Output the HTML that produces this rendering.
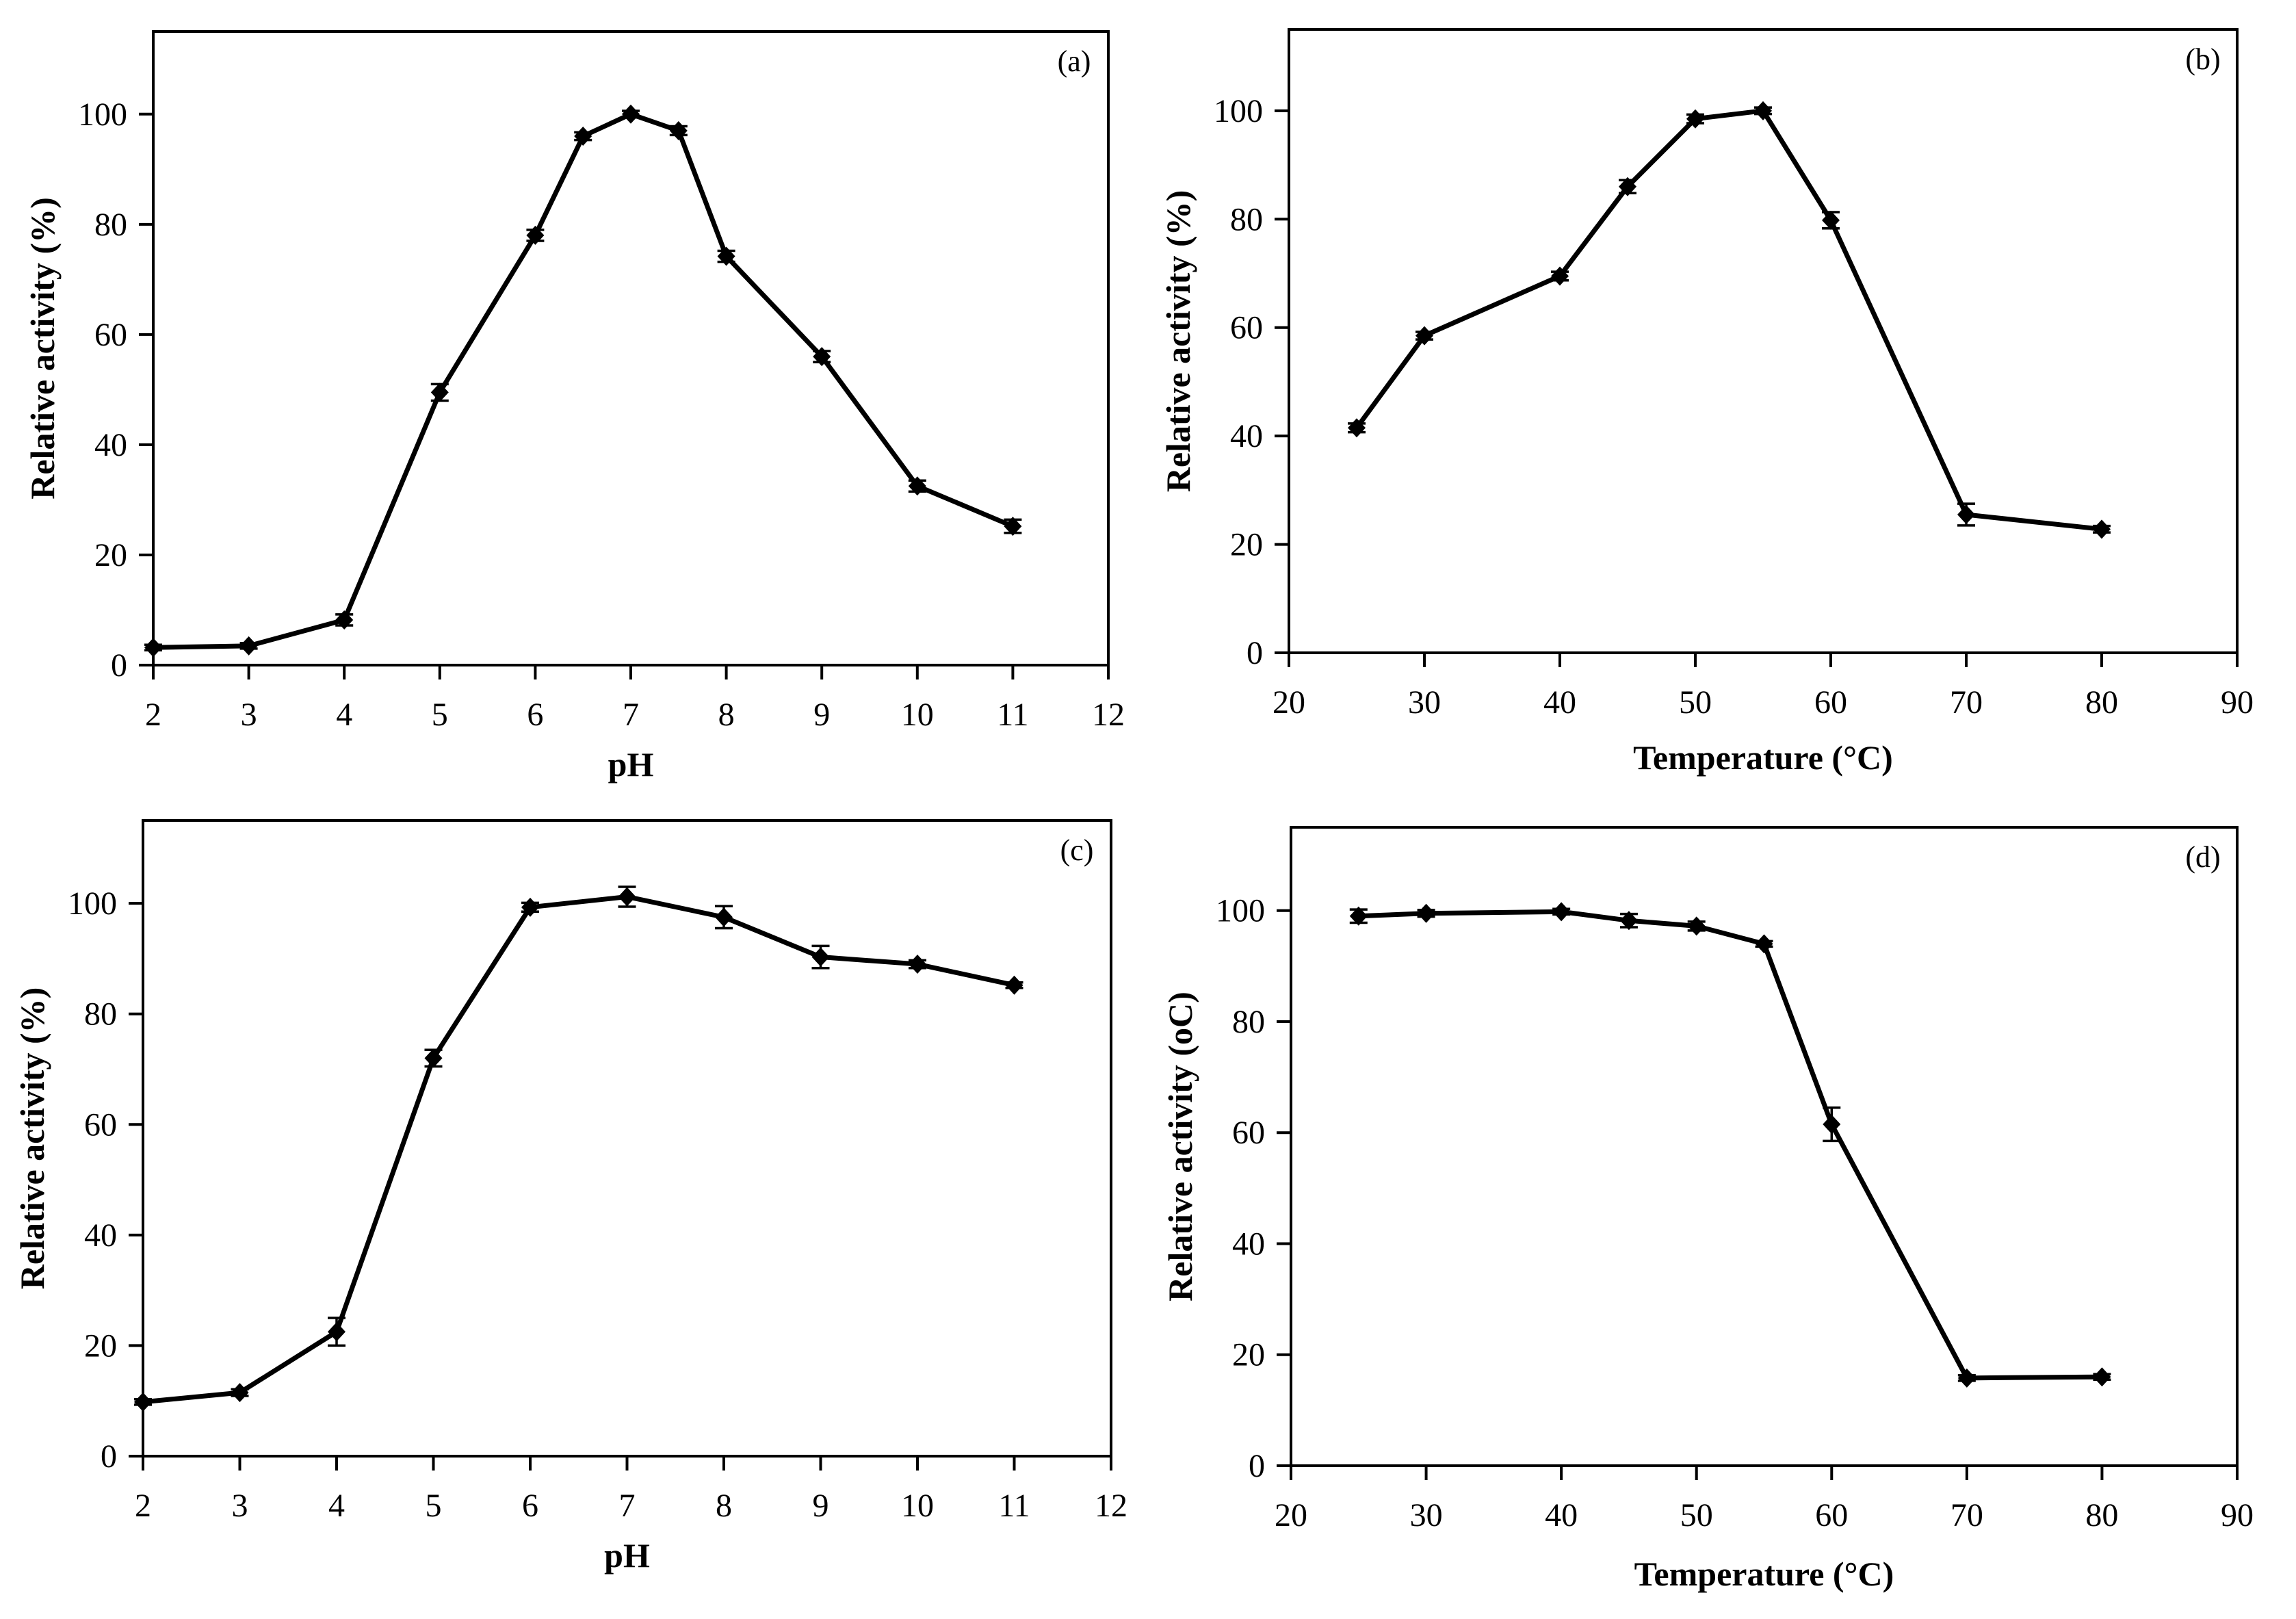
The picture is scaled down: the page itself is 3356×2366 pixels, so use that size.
<!DOCTYPE html>
<html><head><meta charset="utf-8">
<style>
html,body{margin:0;padding:0;background:#fff;}
svg{display:block;}
text{font-family:"Liberation Serif",serif;fill:#000;}
</style></head>
<body>
<svg id="fig" width="3356" height="2366" viewBox="0 0 3356 2366" xmlns="http://www.w3.org/2000/svg"></svg>
<script>
const phA = [2,3,4,5,6,6.5,7,7.5,8,9,10,11];
const valA = [3.2,3.5,8.2,49.5,78,96,100,97,74.2,56,32.5,25.2];
const errA = [0.5,0.5,1,1.5,1,0.7,0.6,0.8,1,1,1,1.2];
const tempB = [25,30,40,45,50,55,60,70,80];
const valB = [41.5,58.5,69.5,86,98.5,100,79.8,25.5,22.8];
const errB = [0.8,0.7,0.8,1.2,0.8,0.6,1.5,2,0.6];
const phC = [2,3,4,5,6,7,8,9,10,11];
const valC = [9.8,11.5,22.5,72,99.3,101.2,97.5,90.3,89,85.2];
const errC = [0.5,0.6,2.5,1.5,0.8,1.8,2,2,0.7,0.5];
const tempD = [25,30,40,45,50,55,60,70,80];
const valD = [99,99.5,99.8,98.2,97.2,94,61.5,15.8,16];
const errD = [1.2,0.6,0.5,1.2,0.8,0.5,3,0.5,0.5];
const yTicks = [0,20,40,60,80,100];
const phTicks = [2,3,4,5,6,7,8,9,10,11,12];
const tempTicks = [20,30,40,50,60,70,80,90];

const NS = "http://www.w3.org/2000/svg";
const svg = document.getElementById('fig');
function mk(tag, attrs, parent){
  const e = document.createElementNS(NS, tag);
  for (const k in attrs) e.setAttribute(k, attrs[k]);
  (parent||svg).appendChild(e);
  return e;
}
function panel(cfg){
  const g = mk('g', {});
  
  
  const L=cfg.left,R=cfg.right,T=cfg.top,B=cfg.bottom;
  const xs = v => L + (v - cfg.xmin)/(cfg.xmax - cfg.xmin)*(R-L);
  const ys = v => B - v/115*(B-T);
  const frame = mk('rect', {x:L,y:T,width:R-L,height:B-T,fill:'none',stroke:'#000','stroke-width':4}, g);
  
  
  yTicks.forEach(t => {
    const y = ys(t);
    mk('line', {x1:L-21,x2:L,y1:y,y2:y,stroke:'#000','stroke-width':4}, g);
    const tx = mk('text', {x:L-38,y:y+16,'font-size':48,'text-anchor':'end'}, g);
    tx.textContent = t;
    
    
  });
  cfg.xticks.forEach(t => {
    const x = xs(t);
    mk('line', {x1:x,x2:x,y1:B,y2:B+21,stroke:'#000','stroke-width':4}, g);
    const tx = mk('text', {x:x,y:B+88,'font-size':48,'text-anchor':'middle'}, g);
    tx.textContent = t;
    
    
  });
  const yl = mk('text', {x:0,y:0,'font-size':50,'font-weight':'bold','text-anchor':'middle',transform:`translate(${L-145},${(T+B)/2}) rotate(-90)`}, g);
  yl.textContent = cfg.ylabel;
  
  
  const xl = mk('text', {x:(L+R)/2,y:B+cfg.xlOff,'font-size':50,'font-weight':'bold','text-anchor':'middle'}, g);
  xl.textContent = cfg.xlabel;
  
  
  const pl = mk('text', {x:R-50,y:T+58,'font-size':44,'text-anchor':'middle'}, g);
  pl.textContent = cfg.tag;
  
  
  const pts = cfg.xv.map((v,i) => xs(v)+','+ys(cfg.yv[i])).join(' ');
  const line = mk('polyline', {points:pts,fill:'none',stroke:'#000','stroke-width':7,'stroke-linejoin':'round'}, g);
  
  
  cfg.xv.forEach((v,i) => {
    const x = xs(v), y = ys(cfg.yv[i]);
    const y1 = ys(cfg.yv[i]+cfg.ev[i]), y2 = ys(cfg.yv[i]-cfg.ev[i]);
    const eb = mk('path', {d:`M${x},${y1}V${y2}M${x-13},${y1}H${x+13}M${x-13},${y2}H${x+13}`,stroke:'#000','stroke-width':3.5,fill:'none'}, g);
    
    
    const m = mk('path', {d:`M${x},${y-14}L${x+13},${y}L${x},${y+14}L${x-13},${y}Z`,fill:'#000'}, g);
    
    
  });
}
panel({id:'a',tag:'(a)',left:224,right:1620,top:46,bottom:972,xmin:2,xmax:12,xticks:phTicks,xv:phA,yv:valA,ev:errA,ylabel:'Relative activity (%)',xlabel:'pH',xlOff:162});
panel({id:'b',tag:'(b)',left:1884,right:3270,top:43,bottom:954,xmin:20,xmax:90,xticks:tempTicks,xv:tempB,yv:valB,ev:errB,ylabel:'Relative activity (%)',xlabel:'Temperature (°C)',xlOff:170});
panel({id:'c',tag:'(c)',left:209,right:1624,top:1199,bottom:2128,xmin:2,xmax:12,xticks:phTicks,xv:phC,yv:valC,ev:errC,ylabel:'Relative activity (%)',xlabel:'pH',xlOff:162});
panel({id:'d',tag:'(d)',left:1887,right:3270,top:1209,bottom:2142,xmin:20,xmax:90,xticks:tempTicks,xv:tempD,yv:valD,ev:errD,ylabel:'Relative activity (oC)',xlabel:'Temperature (°C)',xlOff:175});
</script>
</body></html>
